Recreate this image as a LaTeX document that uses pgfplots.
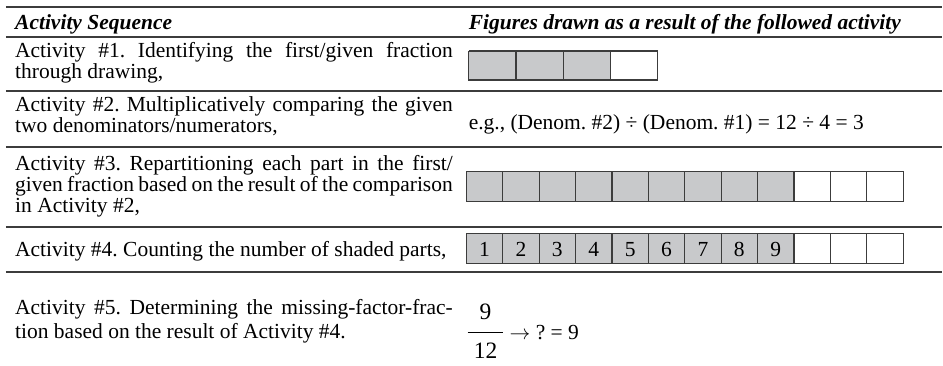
\documentclass[border=0pt]{standalone}
\usepackage{fontspec}
\setmainfont{Liberation Serif}
\usepackage{pgfplots}
\pgfplotsset{compat=1.18}

\definecolor{shade}{RGB}{200,201,203}
\definecolor{rulec}{RGB}{60,60,60}

% one justified line of the first column
\newcommand\jline[1]{\hbox to 438pt{#1}}

\begin{document}
\frenchspacing
\begin{tikzpicture}[
	txt/.style={anchor=base west, inner sep=0pt, font=\fontsize{21.5}{22}\selectfont},
	hd/.style={txt, font=\fontsize{21.5}{22}\selectfont\bfseries\itshape},
	num/.style={anchor=base, inner sep=0pt, font=\fontsize{21.5}{22}\selectfont},
	frac/.style={anchor=base, inner sep=0pt, font=\fontsize{23.5}{24}\selectfont},
	]
	\begin{axis}[
		x=1pt, y=1pt,
		xmin=0, xmax=943,
		ymin=0, ymax=366,
		y dir=reverse,
		hide axis,
		clip=false,
		unbounded coords=jump,
		]

		\path (axis cs:0,0) rectangle (axis cs:943,366);

		% table rules
		\addplot[rulec, line width=1.7pt] coordinates {
			(6,7) (943,7) (nan,nan)
			(6,37) (943,37) (nan,nan)
			(6,91) (943,91) (nan,nan)
			(6,147) (943,147) (nan,nan)
			(6,227) (943,227) (nan,nan)
			(6,272) (943,272)
		};

		% activity 1: 4 parts, 3 shaded
		\addplot[fill=shade, draw=none] coordinates {
			(469.3,51) (610.9,51) (610.9,80) (469.3,80) (469.3,51)
		};
		\addplot[rulec, line width=1.2pt] coordinates {
			(469.3,51) (658.1,51) (658.1,80) (469.3,80) (469.3,51) (nan,nan)
			(516.5,51) (516.5,80) (nan,nan)
			(563.7,51) (563.7,80) (nan,nan)
			(610.9,51) (610.9,80)
		};

		% activity 3: 12 parts, 9 shaded
		\addplot[fill=shade, draw=none] coordinates {
			(466.7,172) (794.7,172) (794.7,202) (466.7,202) (466.7,172)
		};
		\addplot[rulec, line width=1.2pt] coordinates {
			(466.7,172) (904.0,172) (904.0,202) (466.7,202) (466.7,172) (nan,nan)
			(503.1,172) (503.1,202) (nan,nan)
			(539.6,172) (539.6,202) (nan,nan)
			(576.0,172) (576.0,202) (nan,nan)
			(612.5,172) (612.5,202) (nan,nan)
			(648.9,172) (648.9,202) (nan,nan)
			(685.3,172) (685.3,202) (nan,nan)
			(721.8,172) (721.8,202) (nan,nan)
			(758.2,172) (758.2,202) (nan,nan)
			(794.7,172) (794.7,202) (nan,nan)
			(831.1,172) (831.1,202) (nan,nan)
			(867.5,172) (867.5,202)
		};

		% activity 4: same strip, shaded parts counted
		\addplot[fill=shade, draw=none] coordinates {
			(466.7,234) (794.7,234) (794.7,264) (466.7,264) (466.7,234)
		};
		\addplot[rulec, line width=1.2pt] coordinates {
			(466.7,234) (904.0,234) (904.0,264) (466.7,264) (466.7,234) (nan,nan)
			(503.1,234) (503.1,264) (nan,nan)
			(539.6,234) (539.6,264) (nan,nan)
			(576.0,234) (576.0,264) (nan,nan)
			(612.5,234) (612.5,264) (nan,nan)
			(648.9,234) (648.9,264) (nan,nan)
			(685.3,234) (685.3,264) (nan,nan)
			(721.8,234) (721.8,264) (nan,nan)
			(758.2,234) (758.2,264) (nan,nan)
			(794.7,234) (794.7,264) (nan,nan)
			(831.1,234) (831.1,264) (nan,nan)
			(867.5,234) (867.5,264)
		};
		\node[num] at (axis cs:484.9,257) {1};
		\node[num] at (axis cs:521.4,257) {2};
		\node[num] at (axis cs:557.8,257) {3};
		\node[num] at (axis cs:594.3,257) {4};
		\node[num] at (axis cs:630.7,257) {5};
		\node[num] at (axis cs:667.1,257) {6};
		\node[num] at (axis cs:703.6,257) {7};
		\node[num] at (axis cs:740.0,257) {8};
		\node[num] at (axis cs:776.4,257) {9};

		% headers
		\node[hd] at (axis cs:15,30) {Activity Sequence};
		\node[hd] at (axis cs:469,30) {Figures drawn as a result of the followed activity};

		% first column
		\node[txt] at (axis cs:15,58) {\jline{Activity \#1. Identifying the first/given fraction}};
		\node[txt] at (axis cs:15,79) {through drawing,};
		\node[txt] at (axis cs:15,112) {\jline{Activity \#2. Multiplicatively comparing the given}};
		\node[txt] at (axis cs:15,133) {two denominators/numerators,};
		\node[txt] at (axis cs:15,171) {\jline{Activity \#3. Repartitioning each part in the first/}};
		\node[txt] at (axis cs:15,192) {\jline{given fraction based on the result of the comparison}};
		\node[txt] at (axis cs:15,213) {in Activity \#2,};
		\node[txt] at (axis cs:15,257) {Activity \#4. Counting the number of shaded parts,};
		\node[txt] at (axis cs:15,315) {\jline{Activity \#5. Determining the missing-factor-frac-}};
		\node[txt] at (axis cs:15,339) {tion based on the result of Activity \#4.};

		% second column, text entries
		\node[txt] at (axis cs:469,130) {e.g., (Denom. \#2) ÷ (Denom. \#1) = 12 ÷ 4 = 3};
		\node[frac] at (axis cs:486,320) {9};
		\addplot[black, line width=0.9pt] coordinates {(468,333) (503,333)};
		\node[frac] at (axis cs:486,359) {12};
		\node[txt] at (axis cs:510,340) {$\rightarrow$ ? = 9};
	\end{axis}
\end{tikzpicture}
\end{document}
